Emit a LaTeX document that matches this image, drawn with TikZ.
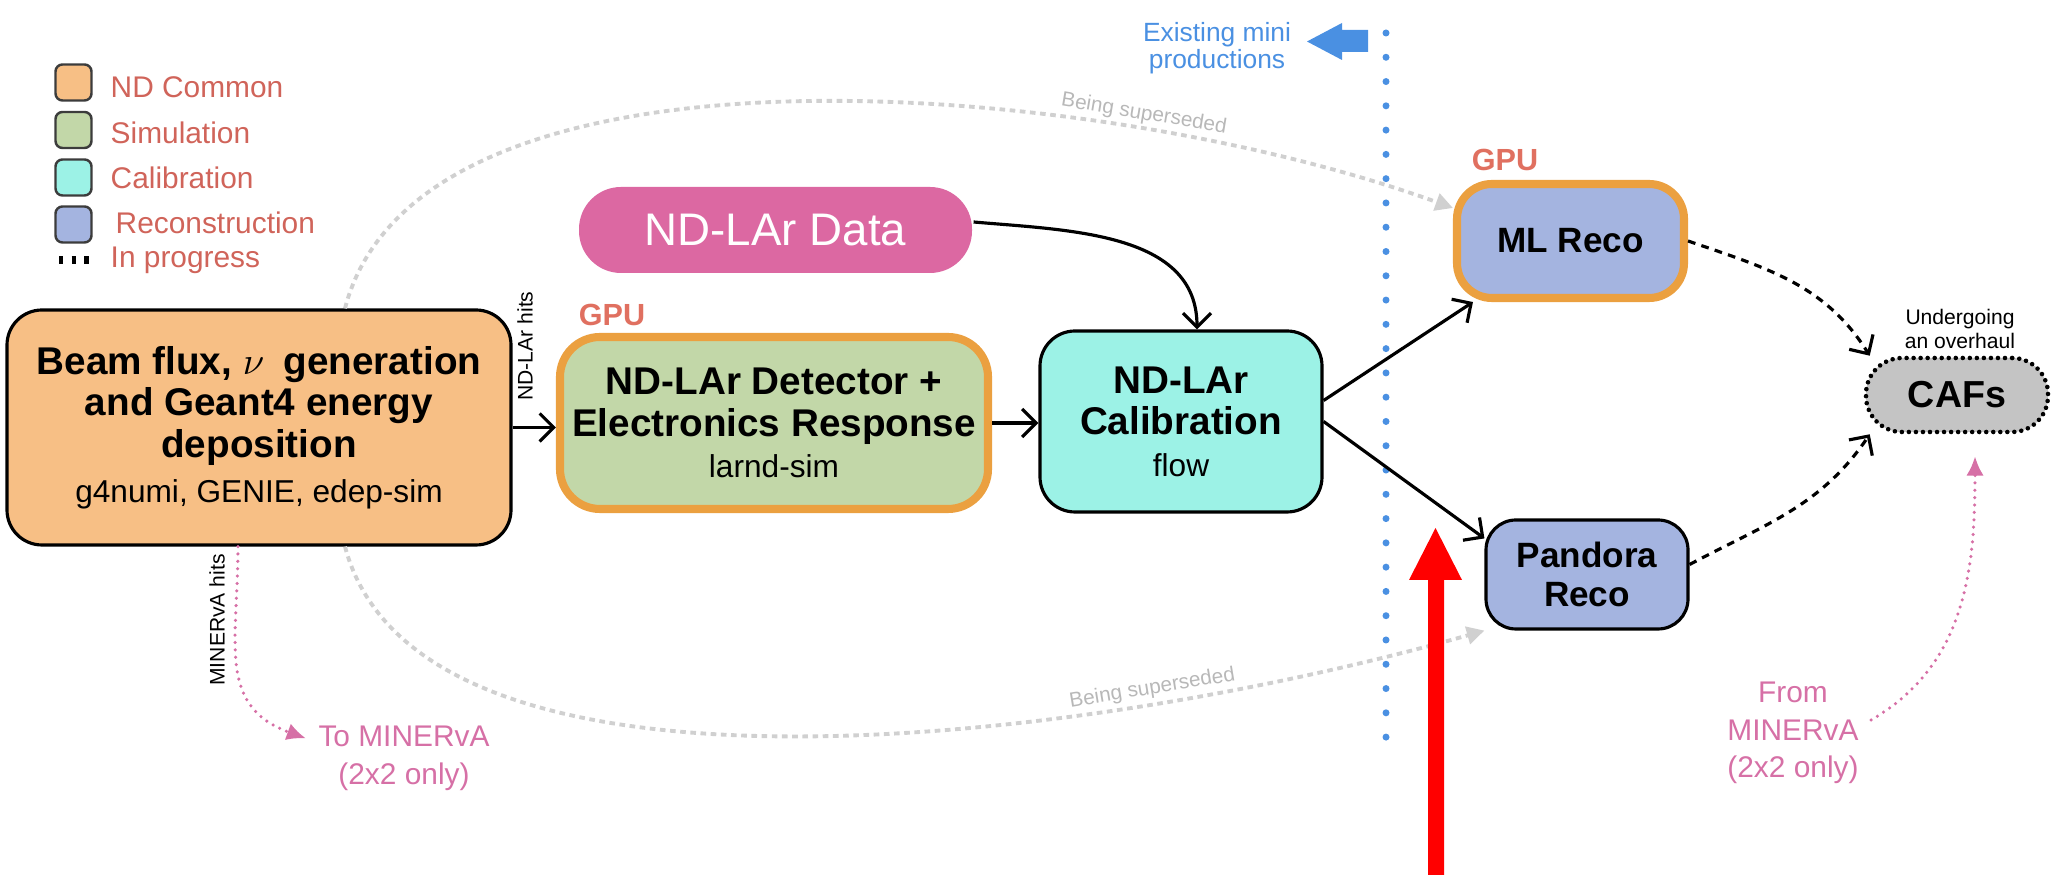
\documentclass[tikz,border=0pt]{standalone}
\usepackage{fontspec}
\setmainfont{Liberation Sans}
\usepackage{tikz}
\usetikzlibrary{arrows.meta}

\definecolor{ndcommon}{HTML}{F7BF85}
\definecolor{simcol}{HTML}{C2D7A8}
\definecolor{calibcol}{HTML}{9CF2E6}
\definecolor{recocol}{HTML}{A4B4E0}
\definecolor{gpuorange}{HTML}{EBA040}
\definecolor{gpured}{HTML}{E07060}
\definecolor{legred}{HTML}{D0645A}
\definecolor{datapink}{HTML}{DC68A2}
\definecolor{mpink}{HTML}{D670A6}
\definecolor{bluecol}{HTML}{4A90E2}
\definecolor{oldgray}{HTML}{D0D0D0}
\definecolor{oldtext}{HTML}{B8B8B8}
\definecolor{cafgray}{HTML}{C4C4C4}
\definecolor{legline}{HTML}{3C3C3C}

\newcommand{\tlfont}{\fontsize{11}{11.8}\selectfont\bfseries}
\newcommand{\sbfont}{\fontsize{9}{10}\selectfont\mdseries}
\newcommand{\recofont}{\fontsize{10}{11.2}\selectfont\bfseries}
\newcommand{\datafont}{\fontsize{13}{14}\selectfont}
\newcommand{\gpufont}{\fontsize{8.7}{10}\selectfont\bfseries}
\newcommand{\lgfont}{\fontsize{8.5}{10}\selectfont}
\newcommand{\hitsfont}{\fontsize{6}{7}\selectfont}
\newcommand{\grayfont}{\fontsize{5.9}{7}\selectfont}
\newcommand{\pinkfont}{\fontsize{8.5}{10.7}\selectfont}
\newcommand{\notefont}{\fontsize{6}{6.9}\selectfont}
\newcommand{\minifont}{\fontsize{7.5}{7.7}\selectfont}
\newcommand{\cafsfont}{\fontsize{10.7}{12}\selectfont\bfseries}

\begin{document}
\begin{tikzpicture}[
    box/.style={draw=black, line width=0.9pt, rounded corners=0.35cm, align=center, inner sep=0pt, font=\tlfont},
    gpu/.style={draw=gpuorange, line width=2.3pt},
    gputext/.style={text=gpured, font=\gpufont, inner sep=0pt},
    flow/.style={line width=0.9pt, -{Straight Barb[length=4pt, width=8pt]}},
    todo/.style={flow, dash pattern=on 2.2pt off 1.8pt},
    old/.style={draw=oldgray, line width=1.1pt, dash pattern=on 1.6pt off 1.3pt, -{Triangle[length=5pt, width=5pt]}},
    oldlabel/.style={text=oldtext, font=\grayfont, inner sep=1pt},
    pinkdots/.style={draw=mpink, line width=1pt, line cap=round, dash pattern=on 0pt off 2.1pt, -{Latex[length=5.5pt, width=5pt]}},
    pinktext/.style={text=mpink, font=\pinkfont, align=center},
    hits/.style={font=\hitsfont, inner sep=0pt},
    legbox/.style={draw=legline, line width=0.7pt, rounded corners=0.07cm, minimum size=0.36cm, inner sep=0pt},
    legtext/.style={anchor=west, text=legred, font=\lgfont, inner sep=0pt},
  ]
    \useasboundingbox (0,0) rectangle (20.55,8.75);
    % Legend
    \node[legbox, fill=ndcommon] (legcommon) at (0.735, 7.925) {};
    \node[legtext] (txtcommon) at (1.10, 7.88) {ND Common};
    \node[legbox, fill=simcol] (legsim) at (0.735, 7.45) {};
    \node[legtext] (txtsim) at (1.10, 7.42) {Simulation};
    \node[legbox, fill=calibcol] (legcalib) at (0.735, 6.975) {};
    \node[legtext] (txtcalib) at (1.10, 6.97) {Calibration};
    \node[legbox, fill=recocol] (legreco) at (0.735, 6.505) {};
    \node[legtext] (txtreco) at (1.15, 6.52) {Reconstruction};
    \draw[line width=2pt, dash pattern=on 1.2pt off 2.4pt] (0.59, 6.15) -- (0.886, 6.15);
    \node[legtext] (txtprog) at (1.10, 6.15) {In progress};
    % ND common
    \node[box, fill=ndcommon, minimum width=5.04cm, minimum height=2.35cm] (beam) at (2.59, 4.475)
        {Beam flux, $\nu$\enspace generation\\ and Geant4 energy\\ deposition\\[1pt] \sbfont g4numi, GENIE, edep-sim};
    % Simulation
    \node[box, gpu, fill=simcol, minimum width=4.28cm, minimum height=1.72cm, rounded corners=0.4cm] (det) at (7.74, 4.52)
        {ND-LAr Detector +\\ Electronics Response\\ \sbfont larnd-sim};
    \node[gputext] (gpudet) at (6.12, 5.60) {GPU};
    % Data
    \node[box, draw=none, fill=datapink, text=white, font=\datafont, minimum width=3.93cm, minimum height=0.86cm, rounded corners=0.42cm] (data) at (7.755, 6.45) {ND-LAr Data};
    % Calibration
    \node[box, fill=calibcol, minimum width=2.82cm, minimum height=1.81cm] (calib) at (11.81, 4.535)
        {ND-LAr\\ Calibration\\ \sbfont flow};
    % Reconstruction
    \node[box, gpu, fill=recocol, font=\recofont, minimum width=2.27cm, minimum height=1.14cm] (mlreco) at (15.705, 6.34) {ML Reco};
    \node[gputext] (gpuml) at (15.05, 7.15) {GPU};
    \node[box, fill=recocol, font=\recofont, minimum width=2.02cm, minimum height=1.09cm, rounded corners=0.3cm] (pandora) at (15.87, 3.005) {Pandora\\ Reco};
    % CAFs
    \node[box, fill=cafgray, font=\cafsfont, line width=1.3pt, line cap=round, dash pattern=on 0pt off 2pt, minimum width=1.82cm, minimum height=0.74cm, rounded corners=0.36cm] (cafs) at (19.57, 4.80) {CAFs};
    \node[font=\notefont, align=center, inner sep=0pt] (overhaul) at (19.60, 5.46) {Undergoing\\ an overhaul};
    % hits labels
    \node[hits, rotate=90] (ndhits) at (5.25, 5.29) {ND-LAr hits};
    \node[hits, rotate=90] (mvhits) at (2.17, 2.55) {MINERvA hits};
    % MINERvA
    \node[pinktext] (tomin) at (4.04, 1.165) {To MINERvA\\ (2x2 only)};
    \node[pinktext] (frommin) at (17.93, 1.42) {From\\ MINERvA\\ (2x2 only)};
    % Existing productions
    \node[text=bluecol, font=\minifont, align=center, inner sep=0pt] (mini) at (12.17, 8.265) {Existing mini\\ productions};
    \fill[bluecol] (13.68, 8.45) -- (13.42, 8.45) -- (13.42, 8.52) -- (13.07, 8.335) -- (13.42, 8.15) -- (13.42, 8.23) -- (13.68, 8.23) -- cycle;
    \foreach \k in {0,...,29}
        \fill[bluecol] (13.86, {8.42-0.2428*\k}) circle (0.035);
    % connectors
    \draw[flow] (beam.east) -- (beam.east -| det.west);
    \draw[flow] (det.east) -- (det.east -| calib.west);
    \draw[flow] ([yshift=0.08cm]data.east) to[out=-5, in=90] ([xshift=0.16cm]calib.north);
    \draw[flow] ([yshift=0.21cm]calib.east) -- ([xshift=0.2cm]mlreco.south west);
    \draw[flow] (calib.east) -- ([yshift=-0.2cm]pandora.north west);
    \draw[todo] (mlreco.east) to[out=-19, in=122] ([xshift=0.06cm]cafs.north west);
    \draw[todo] ([yshift=0.1cm]pandora.east) to[out=28, in=-124] ([xshift=0.06cm]cafs.south west);
    \draw[old] ([xshift=0.86cm]beam.north) .. controls (4.20, 8.55) and (11.00, 7.95) .. ([yshift=0.33cm]mlreco.west)
        node[pos=0.75, sloped, above, oldlabel] (superup) {Being superseded};
    \draw[old] ([xshift=0.86cm]beam.south) .. controls (4.20, 0.45) and (11.00, 1.35) .. (pandora.south west)
        node[pos=0.75, sloped, above, oldlabel] (superlow) {Being superseded};
    \draw[pinkdots] ([xshift=-0.21cm]beam.south) to[out=-90, in=160, looseness=1.2] ([yshift=0.2cm]tomin.west);
    \draw[pinkdots] ([yshift=0.13cm]frommin.east) to[out=30, in=-90] ([xshift=0.18cm, yshift=-0.22cm]cafs.south);
    % red marker
    \fill[red] (14.28, 0) -- (14.28, 2.95) -- (14.09, 2.95) -- (14.355, 3.47) -- (14.62, 2.95) -- (14.44, 2.95) -- (14.44, 0) -- cycle;
\end{tikzpicture}
\end{document}
